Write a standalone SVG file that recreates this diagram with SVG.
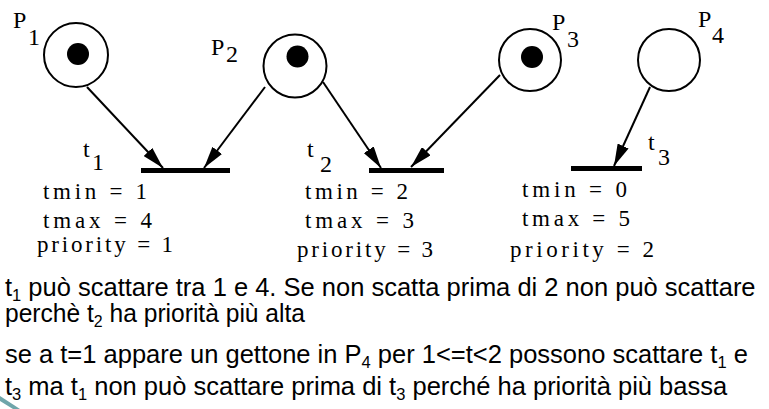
<svg xmlns="http://www.w3.org/2000/svg" width="769" height="409" viewBox="0 0 769 409">
<style>
.place{fill:#fff;stroke:#000;stroke-width:2}
.token{fill:#000}
.bar{fill:#000}
.lbl{font-family:"Liberation Serif","Times New Roman",serif;font-size:24px;fill:#000}
.attr{font-family:"Liberation Serif","Times New Roman",serif;font-size:23px;fill:#000}
.txt{font-family:"Liberation Sans",Arial,sans-serif;font-size:25.5px;fill:#000}
.arc{stroke:#000;stroke-width:2;fill:none;marker-end:url(#ah)}
</style>
<defs>
<marker id="ah" viewBox="0 0 22 12" refX="22" refY="6" markerWidth="22" markerHeight="12" markerUnits="userSpaceOnUse" orient="auto">
<path d="M0,0 L22,6 L0,12 z" fill="#000"/>
</marker>
</defs>
<rect width="769" height="409" fill="#fff"/>
<g id="P1">
<circle class="place" cx="76" cy="55" r="32"/>
<circle class="token" cx="78" cy="54" r="11"/>
<text class="lbl" x="13" y="28">P</text><text class="lbl" x="28" y="45">1</text>
</g>
<g id="P2">
<circle class="place" cx="295" cy="66" r="31.5"/>
<circle class="token" cx="297.5" cy="56.5" r="11"/>
<text class="lbl" x="211" y="55">P</text><text class="lbl" x="226" y="62">2</text>
</g>
<g id="P3">
<circle class="place" cx="530" cy="60" r="31"/>
<circle class="token" cx="532" cy="57" r="11"/>
<text class="lbl" x="552" y="30">P</text><text class="lbl" x="567" y="47">3</text>
</g>
<g id="P4">
<circle class="place" cx="669" cy="60" r="31"/>
<text class="lbl" x="698" y="27">P</text><text class="lbl" x="712" y="43">4</text>
</g>
<g id="t1">
<rect class="bar" x="141" y="168" width="89" height="5"/>
<text class="lbl" x="83" y="157">t</text><text class="lbl" x="92" y="170">1</text>
<text class="attr" x="43" y="199" textLength="104" lengthAdjust="spacing">tmin = 1</text>
<text class="attr" x="43" y="228" textLength="109" lengthAdjust="spacing">tmax = 4</text>
<text class="attr" x="37" y="252" textLength="136" lengthAdjust="spacing">priority = 1</text>
</g>
<g id="t2">
<rect class="bar" x="369" y="168" width="75" height="5"/>
<text class="lbl" x="307" y="157">t</text><text class="lbl" x="320" y="172">2</text>
<text class="attr" x="305" y="199" textLength="103" lengthAdjust="spacing">tmin = 2</text>
<text class="attr" x="305" y="228" textLength="109" lengthAdjust="spacing">tmax = 3</text>
<text class="attr" x="297" y="257" textLength="136" lengthAdjust="spacing">priority = 3</text>
</g>
<g id="t3">
<rect class="bar" x="571" y="166" width="71" height="5"/>
<text class="lbl" x="648" y="150">t</text><text class="lbl" x="658" y="165">3</text>
<text class="attr" x="522" y="197" textLength="105" lengthAdjust="spacing">tmin = 0</text>
<text class="attr" x="522" y="226" textLength="108" lengthAdjust="spacing">tmax = 5</text>
<text class="attr" x="510" y="257" textLength="144" lengthAdjust="spacing">priority =  2</text>
</g>
<g id="connectors">
<line class="arc" x1="87" y1="87" x2="163" y2="168"/>
<line class="arc" x1="265" y1="87" x2="204" y2="168"/>
<line class="arc" x1="323" y1="82" x2="381" y2="168"/>
<line class="arc" x1="500" y1="75" x2="411" y2="167"/>
<line class="arc" x1="650" y1="87" x2="614" y2="166"/>
</g>
<g id="notes">
<text class="txt" x="5" y="296">t<tspan font-size="16.5" dy="5">1</tspan><tspan dy="-5"> può scattare tra 1 e 4. Se non scatta prima di 2 non può scattare</tspan></text>
<text class="txt" x="5" y="322" textLength="300" lengthAdjust="spacingAndGlyphs">perchè t<tspan font-size="16.5" dy="5">2</tspan><tspan dy="-5"> ha priorità più alta</tspan></text>
<text class="txt" x="5" y="363">se a t=1 appare un gettone in P<tspan font-size="16.5" dy="5">4</tspan><tspan dy="-5"> per 1&lt;=t&lt;2 possono scattare t</tspan><tspan font-size="16.5" dy="5">1</tspan><tspan dy="-5"> e</tspan></text>
<text class="txt" x="5" y="395">t<tspan font-size="16.5" dy="5">3</tspan><tspan dy="-5"> ma t</tspan><tspan font-size="16.5" dy="5">1</tspan><tspan dy="-5"> non può scattare prima di t</tspan><tspan font-size="16.5" dy="5">3</tspan><tspan dy="-5"> perché ha priorità più bassa</tspan></text>
</g>
<path d="M0,396 L20,409 L13,409 L0,401 z" fill="#6fa5aa"/>
</svg>
